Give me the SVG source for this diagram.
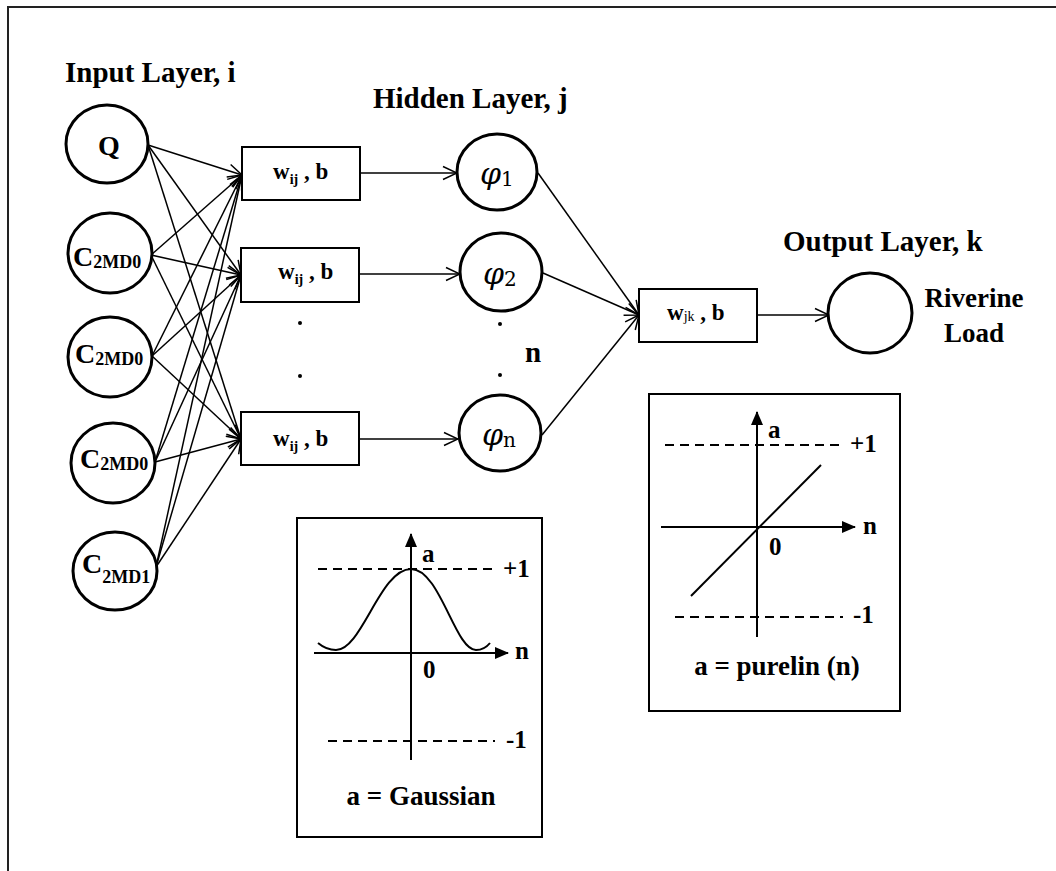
<svg xmlns="http://www.w3.org/2000/svg" width="1056" height="871" viewBox="0 0 1056 871">
<style>
text{font-family:"Liberation Serif","Times New Roman",serif;font-weight:bold;fill:#000}
.lbl{font-size:29px}
.lbl2{font-size:27px}
.big{font-size:28px}
.sub{font-size:18px}
.wt{font-size:23px}
.ws{font-size:14px}
.phi{font-family:"DejaVu Serif",serif;font-style:italic;font-weight:normal;font-size:30px}
.phs{font-family:"DejaVu Serif",serif;font-style:normal;font-weight:normal;font-size:20px}
.ax{font-size:25px}
.node{fill:#fff;stroke:#000;stroke-width:3}
.box{fill:#fff;stroke:#000;stroke-width:2}
.conn{stroke:#000;stroke-width:1.5;fill:none}
.axis{stroke:#000;stroke-width:2;fill:none}
.dash{stroke:#000;stroke-width:2;stroke-dasharray:9 6;fill:none}
</style>
<defs>
<marker id="open" viewBox="0 0 16 16" refX="15" refY="8" markerWidth="16" markerHeight="16" markerUnits="userSpaceOnUse" orient="auto">
<path d="M1,1.5 L15,8 L1,14.5" fill="none" stroke="#000" stroke-width="1.5"/>
</marker>
<marker id="solid" viewBox="0 0 14 12" refX="13" refY="6" markerWidth="14" markerHeight="12" markerUnits="userSpaceOnUse" orient="auto">
<path d="M0,0 L14,6 L0,12 Z" fill="#000"/>
</marker>
</defs>
<rect width="1056" height="871" fill="#fff"/>
<g id="frame">
<path d="M8,871 V7 H1056" fill="none" stroke="#222" stroke-width="2"/>
</g>
<g id="titles">
<text class="lbl" x="65" y="82">Input Layer, i</text>
<text class="lbl" x="373" y="108">Hidden Layer, j</text>
<text class="lbl" x="783" y="251">Output Layer, k</text>
</g>
<g id="connectors">
<line class="conn" x1="148" y1="145" x2="242" y2="175" marker-end="url(#open)"/>
<line class="conn" x1="148" y1="145" x2="241" y2="275" marker-end="url(#open)"/>
<line class="conn" x1="148" y1="145" x2="241" y2="439" marker-end="url(#open)"/>
<line class="conn" x1="151" y1="255" x2="242" y2="175" marker-end="url(#open)"/>
<line class="conn" x1="151" y1="255" x2="241" y2="275" marker-end="url(#open)"/>
<line class="conn" x1="151" y1="255" x2="241" y2="439" marker-end="url(#open)"/>
<line class="conn" x1="152" y1="356" x2="242" y2="175" marker-end="url(#open)"/>
<line class="conn" x1="152" y1="356" x2="241" y2="275" marker-end="url(#open)"/>
<line class="conn" x1="152" y1="356" x2="241" y2="439" marker-end="url(#open)"/>
<line class="conn" x1="155" y1="462" x2="242" y2="175" marker-end="url(#open)"/>
<line class="conn" x1="155" y1="462" x2="241" y2="275" marker-end="url(#open)"/>
<line class="conn" x1="155" y1="462" x2="241" y2="439" marker-end="url(#open)"/>
<line class="conn" x1="156" y1="567" x2="242" y2="175" marker-end="url(#open)"/>
<line class="conn" x1="156" y1="567" x2="241" y2="275" marker-end="url(#open)"/>
<line class="conn" x1="156" y1="567" x2="241" y2="439" marker-end="url(#open)"/>
<line class="conn" x1="360" y1="173" x2="457" y2="173" marker-end="url(#open)"/>
<line class="conn" x1="359" y1="274" x2="460" y2="274" marker-end="url(#open)"/>
<line class="conn" x1="359" y1="439" x2="458" y2="439" marker-end="url(#open)"/>
<line class="conn" x1="538" y1="173" x2="639" y2="315" marker-end="url(#open)"/>
<line class="conn" x1="543" y1="273" x2="639" y2="315" marker-end="url(#open)"/>
<line class="conn" x1="542" y1="435" x2="639" y2="315" marker-end="url(#open)"/>
<line class="conn" x1="757" y1="315" x2="829" y2="315" marker-end="url(#open)"/>
</g>
<g id="input-Q">
<ellipse class="node" cx="107" cy="144" rx="41" ry="39"/>
<text class="big" x="98" y="155">Q</text>
</g>
<g id="input-C2MD0-a">
<ellipse class="node" cx="110" cy="253" rx="42" ry="40"/>
<text class="big" x="73" y="266">C<tspan class="sub" dy="2">2MD0</tspan></text>
</g>
<g id="input-C2MD0-b">
<ellipse class="node" cx="110" cy="357" rx="42" ry="40"/>
<text class="big" x="75" y="363">C<tspan class="sub" dy="2">2MD0</tspan></text>
</g>
<g id="input-C2MD0-c">
<ellipse class="node" cx="113" cy="463" rx="42" ry="40"/>
<text class="big" x="80" y="468">C<tspan class="sub" dy="2">2MD0</tspan></text>
</g>
<g id="input-C2MD1">
<ellipse class="node" cx="115" cy="571" rx="42" ry="39"/>
<text class="big" x="82" y="573">C<tspan class="sub" dy="10">2MD1</tspan></text>
</g>
<g id="w1">
<rect class="box" x="242" y="147" width="118" height="53"/>
<text class="wt" x="273" y="179">w<tspan class="ws" dy="5">ij</tspan><tspan dy="-5"> , b</tspan></text>
</g>
<g id="w2">
<rect class="box" x="241" y="248" width="118" height="54"/>
<text class="wt" x="278" y="279">w<tspan class="ws" dy="5">ij</tspan><tspan dy="-5"> , b</tspan></text>
</g>
<g id="w3">
<rect class="box" x="241" y="412" width="118" height="53"/>
<text class="wt" x="273" y="446">w<tspan class="ws" dy="5">ij</tspan><tspan dy="-5"> , b</tspan></text>
</g>
<g id="dots">
<circle cx="300" cy="323" r="2"/>
<circle cx="300" cy="376" r="2"/>
<circle cx="500" cy="324" r="2"/>
<circle cx="500" cy="375" r="2"/>
<text class="lbl" x="525" y="362">n</text>
</g>
<g id="phi1">
<ellipse class="node" cx="497" cy="172" rx="40" ry="38"/>
<text class="phi" x="480" y="184">φ<tspan class="phs" dy="2">1</tspan></text>
</g>
<g id="phi2">
<ellipse class="node" cx="501" cy="272" rx="41" ry="39"/>
<text class="phi" x="483" y="284">φ<tspan class="phs" dy="2">2</tspan></text>
</g>
<g id="phin">
<ellipse class="node" cx="500" cy="433" rx="41" ry="38"/>
<text class="phi" x="482" y="445">φ<tspan class="phs" font-style="italic" dy="2">n</tspan></text>
</g>
<g id="wjk">
<rect class="box" x="639" y="289" width="118" height="53"/>
<text class="wt" x="667" y="320">w<tspan class="ws" font-weight="normal" dy="1">jk</tspan><tspan dy="-1"> , b</tspan></text>
</g>
<g id="output">
<ellipse class="node" cx="870" cy="313" rx="42" ry="40"/>
<text class="lbl2" x="974" y="307" text-anchor="middle">Riverine</text>
<text class="lbl2" x="974" y="342" text-anchor="middle">Load</text>
</g>
<g id="gaussian">
<rect class="box" x="297" y="518" width="245" height="319"/>
<line class="dash" x1="318" y1="569" x2="495" y2="569"/>
<line class="dash" x1="328" y1="741" x2="495" y2="741"/>
<line class="axis" x1="411" y1="760" x2="411" y2="534" marker-end="url(#solid)"/>
<line class="axis" x1="314" y1="653" x2="508" y2="653" marker-end="url(#solid)"/>
<path class="axis" d="M318,643 C324,648 329,650 336,650 C362,650 380,569 411,569 C440,569 455,650 476,650 C482,650 486,648 490,643"/>
<text class="ax" x="422" y="562">a</text>
<text class="ax" x="503" y="577">+1</text>
<text class="ax" x="515" y="659">n</text>
<text class="ax" x="423" y="678">0</text>
<text class="ax" x="506" y="748">-1</text>
<text class="lbl2" x="421" y="805" text-anchor="middle" font-size="28">a = Gaussian</text>
</g>
<g id="purelin">
<rect class="box" x="649" y="394" width="251" height="317"/>
<line class="dash" x1="665" y1="445" x2="842" y2="445"/>
<line class="dash" x1="675" y1="617" x2="843" y2="617"/>
<line class="axis" x1="757" y1="637" x2="757" y2="412" marker-end="url(#solid)"/>
<line class="axis" x1="661" y1="527" x2="855" y2="527" marker-end="url(#solid)"/>
<line class="axis" x1="691" y1="596" x2="821" y2="465"/>
<text class="ax" x="768" y="438">a</text>
<text class="ax" x="850" y="452">+1</text>
<text class="ax" x="863" y="534">n</text>
<text class="ax" x="769" y="555">0</text>
<text class="ax" x="853" y="623">-1</text>
<text class="lbl2" x="777" y="675" text-anchor="middle" font-size="28">a = purelin (n)</text>
</g>
</svg>
